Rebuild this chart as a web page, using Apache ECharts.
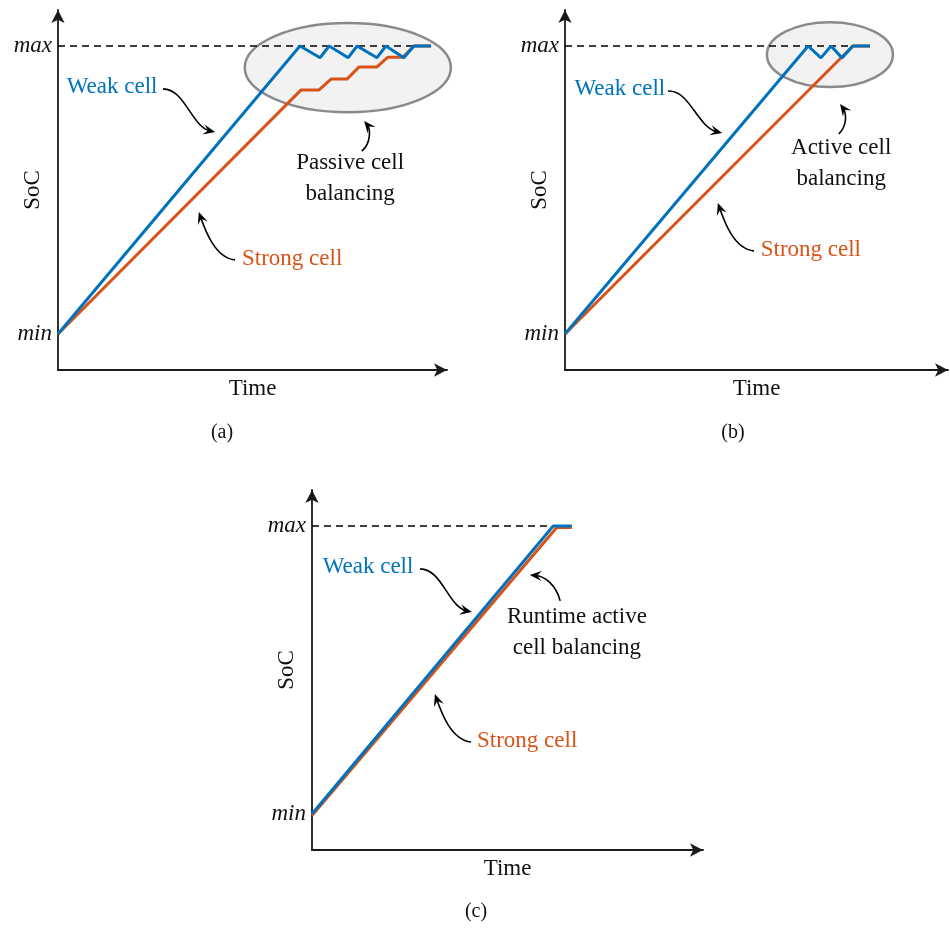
<!DOCTYPE html>
<html><head><meta charset="utf-8">
<script src="https://cdn.jsdelivr.net/npm/echarts@6/dist/echarts.min.js"></script>
<style>html,body{margin:0;padding:0;background:#fff}#c{width:950px;height:929px}</style>
</head><body><div id="c"></div>
<script>
// ---- data (x: time units, y: SoC units; min = 10, max = 90) ----
const socTicks = [10, 90];
const socTickLabels = ['min', 'max'];

// panel (a) passive balancing
const weakA = [[0,10],[62.2,90],[67.4,86.75],[69.7,90],[74.6,86.75],[76.9,90],[82.0,86.75],[84.3,90],[88.9,86.75],[91.5,90],[95.9,90]];
const strongA = [[0,10],[62.5,77.8],[67.1,77.8],[70.2,80.8],[74.3,80.8],[77.4,84.2],[82.0,84.2],[84.8,86.9],[88.7,86.9],[91.5,90],[95.9,90]];
const maxRefA = [[0,90],[95.9,90]];
// panel (b) active balancing
const weakB = [[0,10],[62.5,90],[65.8,86.7],[68.4,90],[71.2,86.7],[74.0,90],[78.4,90]];
const strongB = [[0,10],[74.0,90],[78.4,90]];
const maxRefB = [[0,90],[74.0,90]];
// panel (c) runtime active balancing
const weakC = [[0,10],[62.0,90],[66.8,90]];
const strongC = [[0,9.6],[62.9,89.6],[66.8,89.6]];
const maxRefC = [[0,90],[62.0,90]];

// highlight ellipses [cx, cy, rx, ry]
const ellipseA = [74.5, 84.0, 26.5, 12.4];
const ellipseB = [68.1, 87.6, 16.2, 9.0];

// annotation arrows: [x0,y0, cx1,cy1, cx2,cy2, x3,y3]
const arrowsA = [
  [27.0,78.1, 32.6,78.1, 34.4,67.5, 40.4,66.1],
  [45.5,30.6, 40.4,31.1, 37.8,38.9, 36.2,43.9],
  [78.1,60.8, 80.7,63.3, 80.2,67.2, 78.7,69.2]
];
const arrowsB = [
  [26.5,77.5, 32.1,77.8, 33.9,67.5, 40.4,65.8],
  [48.6,33.1, 43.4,33.6, 40.9,41.4, 39.3,46.4],
  [70.4,65.6, 72.8,68.1, 72.2,71.7, 70.7,73.9]
];
const arrowsC = [
  [27.8,78.1, 33.4,78.1, 35.0,67.5, 41.1,66.1],
  [63.8,69.2, 62.7,73.6, 59.9,76.1, 56.0,76.4],
  [40.9,30.0, 35.7,30.6, 33.2,38.3, 31.6,43.3]
];

// annotation texts
const textsA = ['Weak cell', 'Strong cell', 'Passive cell\nbalancing'];
const textPosA = [[13.9,78.6],[60.2,30.8],[75.1,53.3]];
const textsB = ['Weak cell', 'Strong cell', 'Active cell\nbalancing'];
const textPosB = [[14.1,78.1],[63.2,33.3],[71.0,57.5]];
const textsC = ['Weak cell', 'Strong cell', 'Runtime active\ncell balancing'];
const textPosC = [[14.4,78.6],[55.3,30.3],[68.1,60.4]];
const textKinds = ['weak', 'strong', 'note'];

const captions = ['(a)', '(b)', '(c)'];

// ---- styles / layout ----
const BLUE = '#0072BD', ORANGE = '#D95319';
const SERIF = 'Liberation Serif';
const kindColor = {weak: BLUE, strong: ORANGE, note: '#111'};
const panels = [
  {left: 58, top: 10, width: 389, height: 360, xMax: 100, weak: weakA, strong: strongA, ref: maxRefA, ell: ellipseA, arrows: arrowsA, texts: textsA, tpos: textPosA},
  {left: 565, top: 10, width: 383, height: 360, xMax: 98.46, weak: weakB, strong: strongB, ref: maxRefB, ell: ellipseB, arrows: arrowsB, texts: textsB, tpos: textPosB},
  {left: 312, top: 490, width: 391, height: 360, xMax: 100.51, weak: weakC, strong: strongC, ref: maxRefC, ell: null, arrows: arrowsC, texts: textsC, tpos: textPosC}
];
const captionPos = [[222,433],[733,433],[476,912]];

const grids = [], xAxes = [], yAxes = [], series = [];
const axisLineStyle = {color: '#1a1a1a', width: 1.8};

panels.forEach((p, i) => {
  grids.push({left: p.left, top: p.top, width: p.width, height: p.height, containLabel: false, outerBoundsMode: 'none'});
  xAxes.push({
    type: 'value', gridIndex: i, min: 0, max: p.xMax,
    name: 'Time', nameLocation: 'middle', nameGap: 7,
    nameTextStyle: {fontFamily: SERIF, fontSize: 23, color: '#111', verticalAlign: 'top'},
    axisLine: {show: true, onZero: false, symbol: ['none', 'arrow'], symbolSize: [10, 13], lineStyle: axisLineStyle},
    axisTick: {show: false}, axisLabel: {show: false}, splitLine: {show: false}
  });
  yAxes.push({
    type: 'value', gridIndex: i, min: 0, max: 100,
    name: 'SoC', nameLocation: 'middle', nameGap: 14, nameRotate: 90, nameMoveOverlap: false,
    nameTextStyle: {fontFamily: SERIF, fontSize: 23, color: '#111'},
    axisLine: {show: true, onZero: false, symbol: ['none', 'arrow'], symbolSize: [10, 13], lineStyle: axisLineStyle},
    axisTick: {show: false}, splitLine: {show: false},
    axisLabel: {
      show: true, customValues: socTicks, margin: 6,
      formatter: v => socTickLabels[socTicks.indexOf(v)] || '',
      fontFamily: SERIF, fontStyle: 'italic', fontSize: 23, color: '#111'
    }
  });

  if (p.ell) {
    series.push({
      type: 'custom', coordinateSystem: 'cartesian2d', xAxisIndex: i, yAxisIndex: i, z: 1, silent: true, clip: false,
      data: [p.ell],
      renderItem: (params, api) => {
        const c = api.coord([api.value(0), api.value(1)]);
        const s = api.size([api.value(2), api.value(3)]);
        return {type: 'ellipse', shape: {cx: c[0], cy: c[1], rx: s[0], ry: s[1]},
          style: {fill: '#f2f2f2', stroke: '#8a8a8a', lineWidth: 2.5}};
      }
    });
  }
  series.push({
    type: 'line', xAxisIndex: i, yAxisIndex: i, z: 2, data: p.ref, showSymbol: false, silent: true,
    lineStyle: {color: '#000', width: 1.6, type: [7, 5]}
  });
  series.push({
    type: 'line', xAxisIndex: i, yAxisIndex: i, z: 3, data: p.strong, showSymbol: false, silent: true,
    lineStyle: {color: ORANGE, width: 3}
  });
  series.push({
    type: 'line', xAxisIndex: i, yAxisIndex: i, z: 4, data: p.weak, showSymbol: false, silent: true,
    lineStyle: {color: BLUE, width: 3}
  });
  series.push({
    type: 'custom', coordinateSystem: 'cartesian2d', xAxisIndex: i, yAxisIndex: i, z: 5, silent: true, clip: false,
    data: p.arrows,
    renderItem: (params, api) => {
      const v = k => api.value(k);
      const p0 = api.coord([v(0), v(1)]), p1 = api.coord([v(2), v(3)]);
      const p2 = api.coord([v(4), v(5)]), p3 = api.coord([v(6), v(7)]);
      const dx = p3[0] - p2[0], dy = p3[1] - p2[1];
      const len = Math.hypot(dx, dy) || 1;
      const ux = dx / len, uy = dy / len, nx = -uy, ny = ux;
      const L = 12, W = 5.2;
      return {type: 'group', children: [
        {type: 'bezierCurve', shape: {x1: p0[0], y1: p0[1], cpx1: p1[0], cpy1: p1[1], cpx2: p2[0], cpy2: p2[1], x2: p3[0] - ux * 5, y2: p3[1] - uy * 5},
          style: {stroke: '#000', lineWidth: 1.6, fill: 'none'}},
        {type: 'polygon', shape: {points: [
          [p3[0], p3[1]],
          [p3[0] - L * ux + W * nx, p3[1] - L * uy + W * ny],
          [p3[0] - 0.6 * L * ux, p3[1] - 0.6 * L * uy],
          [p3[0] - L * ux - W * nx, p3[1] - L * uy - W * ny]
        ]}, style: {fill: '#000'}}
      ]};
    }
  });
  series.push({
    type: 'custom', coordinateSystem: 'cartesian2d', xAxisIndex: i, yAxisIndex: i, z: 6, silent: true, clip: false,
    data: p.tpos,
    renderItem: (params, api) => {
      const c = api.coord([api.value(0), api.value(1)]);
      const k = params.dataIndex;
      return {type: 'text', x: c[0], y: c[1], style: {
        text: p.texts[k], fill: kindColor[textKinds[k]],
        fontFamily: SERIF, fontSize: 23, fontWeight: 'normal', fontStyle: 'normal',
        align: 'center', verticalAlign: 'middle', lineHeight: 31
      }};
    }
  });
});

const chart = echarts.init(document.getElementById('c'), null, {renderer: 'canvas'});
chart.setOption({
  animation: false,
  backgroundColor: '#fff',
  grid: grids, xAxis: xAxes, yAxis: yAxes, series: series,
  graphic: captions.map((t, i) => ({
    type: 'text', x: captionPos[i][0], y: captionPos[i][1],
    style: {text: t, fontFamily: SERIF, fontSize: 20, fill: '#111', align: 'center', verticalAlign: 'middle'}
  }))
});
</script></body></html>
